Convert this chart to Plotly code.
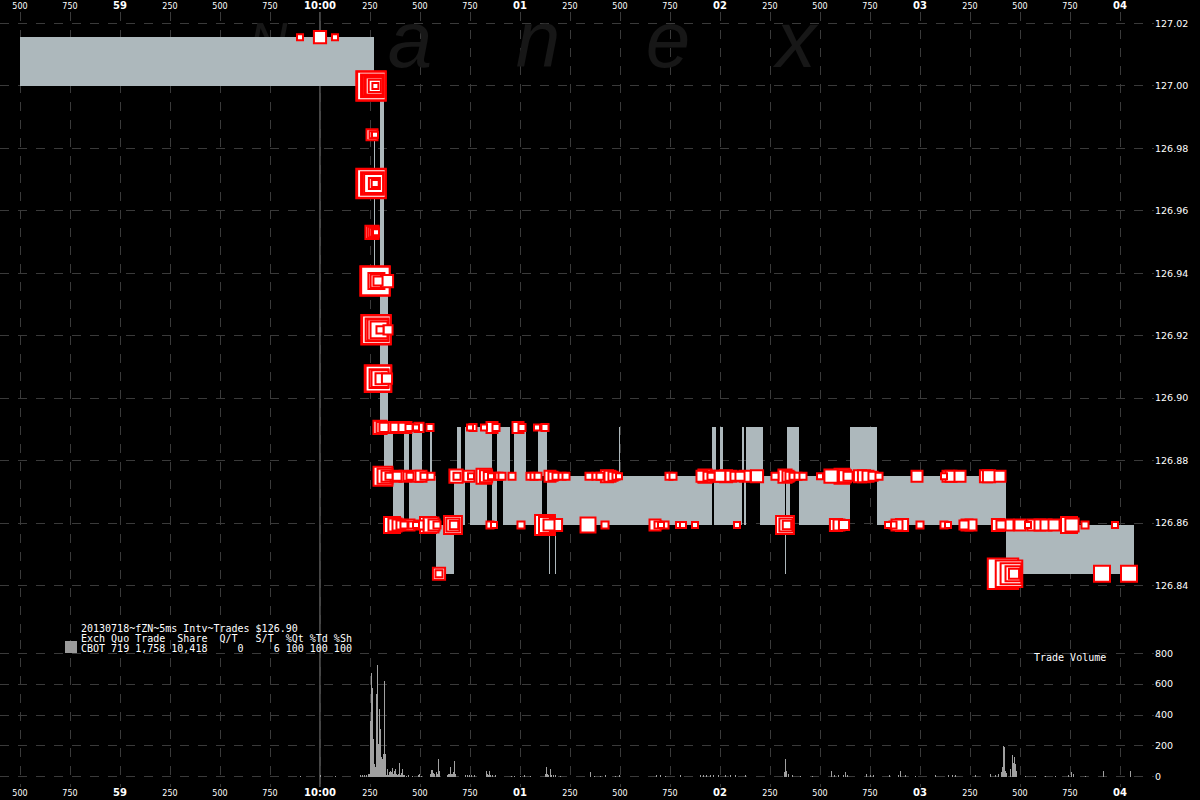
import plotly.graph_objects as go

# ---------------- data ----------------
# price levels (ZN trades in 1/64 ticks)
PRICES = [127.015625, 127.0, 126.984375, 126.96875, 126.953125, 126.9375,
          126.921875, 126.90625, 126.890625, 126.875, 126.859375, 126.84375]

# trades per price level: time (ms after 10:00:00.000) and shares
T0 = [-100, 0, 75]
S0 = [1, 12, 1]
T1 = [255, 257, 262, 265, 268, 271, 274, 277]
S1 = [108, 100, 59, 48, 38, 29, 12, 1]
T2 = [260, 265, 275]
S2 = [9, 2, 1]
T3 = [255, 257, 262, 265, 268, 272, 276]
S3 = [108, 100, 59, 48, 38, 9, 2]
T4 = [260, 265, 270, 275, 280]
S4 = [15, 9, 5, 2, 1]
T5 = [275, 277, 282, 286, 290, 335]
S5 = [108, 100, 25, 15, 5, 12]
T6 = [280, 282, 285, 290, 295, 300, 340]
S6 = [108, 100, 59, 48, 29, 2, 5]
T7 = [290, 292, 295, 300, 305, 335]
S7 = [85, 78, 38, 29, 9, 7]
T8 = [300, 310, 320, 345, 360, 375, 400, 415, 430, 445, 480, 495, 550, 750, 765,
      820, 860, 880, 990, 1010, 1085, 1125]
S8 = [15, 9, 5, 9, 9, 5, 9, 5, 9, 2, 1, 5, 2, 1, 2, 1, 9, 2, 9, 2, 1, 2]
T9 = [315, 325, 335, 345, 380, 385, 425, 440, 450, 485, 505, 520, 555, 680, 685,
      745, 755, 820, 830, 840, 855, 880, 895, 910, 960, 1050, 1070, 1090, 1150,
      1165, 1180, 1210, 1230, 1345, 1380, 1400, 1435, 1450, 1465, 1480, 1495,
      1745, 1765, 1910, 1925, 1940, 1955, 1980, 2000, 2030, 2055, 2075, 2100,
      2125, 2185, 2275, 2325, 2340, 2350, 2365, 2390, 2415, 2500, 2555, 2610,
      2625, 2640, 2700, 2720, 2740, 2765, 2795, 2985, 3120, 3140, 3155, 3200,
      3330, 3345, 3400]
S9 = [38, 21, 9, 2, 9, 5, 9, 5, 2, 9, 9, 2, 2, 15, 2,
      9, 1, 21, 12, 4, 1, 2, 2, 2, 2, 2, 2, 2, 9,
      5, 2, 2, 2, 2, 2, 2, 12, 9, 5, 2, 1,
      2, 2, 9, 15, 5, 2, 9, 9, 12, 9, 5, 5,
      9, 12, 2, 15, 9, 5, 2, 2, 2, 1, 15, 21,
      12, 5, 12, 12, 9, 5, 2, 9, 1, 9, 9, 9,
      12, 12, 9]
T10 = [360, 375, 390, 405, 420, 445, 460, 480, 495, 540, 555, 570, 585, 665, 665,
       670, 850, 870, 1005, 1125, 1135, 1145, 1180, 1340, 1425, 1675, 1690, 1705,
       1725, 1795, 1815, 1875, 2085, 2325, 2330, 2335, 2580, 2595, 2620, 2840,
       2865, 2885, 2910, 3000, 3120, 3140, 3220, 3235, 3255, 3390, 3405, 3440,
       3500, 3540, 3565, 3600, 3630, 3670, 3745, 3760, 3825, 3975]
S10 = [25, 15, 9, 5, 2, 9, 2, 1, 5, 25, 21, 9, 2, 33, 15,
       4, 2, 1, 2, 43, 25, 9, 12, 21, 2, 9, 2, 1,
       2, 1, 1, 1, 1, 33, 15, 4, 12, 9, 7, 1,
       2, 9, 12, 2, 2, 1, 5, 9, 9, 12, 5, 9,
       9, 1, 9, 9, 9, 9, 25, 15, 2, 1]
T11 = [595, 595, 3415, 3445, 3455, 3465, 3470, 3910, 4045]
S11 = [12, 2, 116, 85, 48, 21, 7, 25, 25]

TRADE_TIMES = [T0, T1, T2, T3, T4, T5, T6, T7, T8, T9, T10, T11]
TRADE_SHARES = [S0, S1, S2, S3, S4, S5, S6, S7, S8, S9, S10, S11]

# bid / ask quote intervals (ms after 10:00:00.000)
Q_START = [-1500, 270, 300, 320, 340, 365, 420, 445, 460, 510, 550, 560, 580, 670,
           685, 705, 725, 750, 835, 860, 885, 915, 950, 970, 1030, 1090, 1110,
           1135, 1145, 1150, 1175, 1180, 1495, 1500, 1960, 1970, 1980, 2000, 2015,
           2110, 2120, 2130, 2200, 2215, 2325, 2330, 2335, 2350, 2395, 2650, 2785,
           3430]
Q_END = [270, 275, 320, 340, 365, 420, 445, 460, 510, 550, 560, 580, 670, 685,
         705, 725, 750, 835, 860, 885, 915, 950, 970, 1030, 1090, 1110, 1135,
         1145, 1150, 1175, 1180, 1495, 1500, 1960, 1970, 1980, 2000, 2015, 2110,
         2120, 2130, 2200, 2215, 2325, 2330, 2335, 2350, 2395, 2650, 2785, 3430,
         4070]
Q_BID = [127.0, 126.9375, 126.890625, 126.875, 126.875, 126.859375, 126.875,
         126.859375, 126.859375, 126.859375, 126.859375, 126.859375, 126.84375,
         126.859375, 126.859375, 126.859375, 126.875, 126.859375, 126.875,
         126.859375, 126.875, 126.859375, 126.859375, 126.859375, 126.859375,
         126.859375, 126.875, 126.859375, 126.84375, 126.859375, 126.84375,
         126.859375, 126.859375, 126.859375, 126.875, 126.859375, 126.859375,
         126.859375, 126.859375, 126.875, 126.859375, 126.875, 126.859375,
         126.859375, 126.84375, 126.859375, 126.859375, 126.875, 126.859375,
         126.875, 126.859375, 126.84375]
Q_ASK = [127.015625, 126.984375, 127.0, 126.9375, 126.890625, 126.875, 126.890625,
         126.875, 126.890625, 126.875, 126.890625, 126.875, 126.859375, 126.875,
         126.890625, 126.875, 126.890625, 126.890625, 126.890625, 126.875,
         126.890625, 126.890625, 126.875, 126.890625, 126.875, 126.890625,
         126.890625, 126.875, 126.875, 126.875, 126.875, 126.875, 126.890625,
         126.875, 126.890625, 126.890625, 126.875, 126.890625, 126.875,
         126.890625, 126.875, 126.890625, 126.890625, 126.875, 126.859375,
         126.875, 126.890625, 126.890625, 126.875, 126.890625, 126.875,
         126.859375]

# trade volume per 5 ms interval
VOL_MS = [-100, 0, 75, 200, 210, 220, 230, 240, 245, 250, 255, 260, 265, 270, 275,
          280, 285, 290, 295, 300, 305, 310, 315, 320, 325, 330, 335, 340, 345,
          350, 355, 360, 365, 370, 375, 380, 385, 390, 395, 400, 405, 410, 415,
          420, 430, 440, 460, 490, 495, 505, 550, 555, 560, 565, 570, 580, 585,
          590, 595, 635, 640, 645, 650, 655, 660, 665, 670, 675, 725, 735, 745,
          755, 770, 830, 835, 840, 845, 850, 860, 875, 955, 970, 1000, 1020, 1050,
          1125, 1130, 1135, 1140, 1150, 1155, 1165, 1175, 1200, 1350, 1370, 1400,
          1425, 1475, 1495, 1680, 1700, 1725, 1800, 1900, 1915, 1930, 1950, 1965,
          1990, 2025, 2050, 2075, 2125, 2320, 2325, 2330, 2340, 2360, 2400, 2460,
          2555, 2570, 2590, 2615, 2625, 2635, 2730, 2750, 2765, 2845, 2890, 2900,
          2925, 2975, 3075, 3140, 3160, 3175, 3275, 3350, 3375, 3390, 3405, 3410,
          3415, 3420, 3425, 3430, 3450, 3460, 3465, 3470, 3475, 3480, 3525, 3575,
          3625, 3675, 3740, 3755, 3765, 3825, 3915, 4050]
VOL_SHARES = [3, 5, 3, 10, 8, 12, 6, 15, 20, 360, 673, 576, 243, 82, 60,
              533, 722, 210, 436, 307, 125, 114, 146, 623, 146, 10, 50, 8, 28,
              34, 32, 56, 15, 39, 50, 20, 12, 20, 88, 10, 25, 50, 12,
              5, 4, 6, 3, 8, 17, 4, 20, 43, 45, 25, 15, 30, 20,
              114, 35, 12, 15, 20, 64, 20, 18, 30, 103, 15, 5, 8, 12,
              5, 6, 35, 15, 10, 40, 12, 8, 5, 3, 4, 3, 5, 3,
              20, 60, 15, 10, 50, 10, 8, 6, 3, 28, 4, 3,
              5, 4, 5, 8, 5, 4, 10, 6, 12, 8, 10, 6,
              8, 5, 7, 6, 5, 30, 116, 40, 20, 6, 4, 3,
              35, 10, 12, 10, 30, 8, 15, 12, 10, 10, 8, 40,
              6, 4, 5, 6, 10, 5, 5, 15, 8, 20, 30, 60,
              200, 190, 40, 25, 50, 140, 90, 130, 80, 40, 4, 4,
              3, 4, 10, 28, 15, 3, 37, 37]

# axis ticks
TICK_MS = [-1500, -1250, -1000, -750, -500, -250, 0, 250, 500, 750, 1000, 1250,
           1500, 1750, 2000, 2250, 2500, 2750, 3000, 3250, 3500, 3750, 4000]
TICK_TEXT = ["500", "750", "59", "250", "500", "750", "10:00", "250", "500", "750",
             "01", "250", "500", "750", "02", "250", "500", "750", "03", "250",
             "500", "750", "04"]
SECOND_LABELS = ["59", "10:00", "01", "02", "03", "04"]

WATERMARK = ["N", "a", "n", "e", "x"]
WATERMARK_MS = [-260, 450, 1090, 1740, 2380]
WATERMARK_PRICE = 127.0125

INFO_LINES = ["20130718~fZN~5ms Intv~Trades $126.90",
              "Exch Quo Trade  Share  Q/T   S/T  %Qt %Td %Sh",
              "CBOT 719 1,758 10,418     0     6 100 100 100"]

# ---------------- style / layout ----------------
W, H = 1200, 800
ML, MR, MT, MB = 0, 46, 12, 13
PW, PH = W - ML - MR, H - MT - MB
SPLIT_PX = 640                      # boundary price / volume panel (page px)
split = (H - MB - SPLIT_PX) / PH
X_RANGE = [-1600, 4170]
Y_RANGE = [126.82254, 127.02368]
V_RANGE = [-66.8, 886.2]

GRID = "#3a3a3a"
SPREAD = "#adb8bc"
RED = "#ff0000"
VOLC = "#a0a0a0"


def px_x(p):
    return (p - ML) / PW


def px_y(p):
    return (H - MB - p) / PH


def size_of(shares):
    return 3.5 + 2.5 * shares ** 0.5


ticktext = [("<b><span style='font-size:10px'>%s</span></b>" % t) if t in SECOND_LABELS
            else t for t in TICK_TEXT]

fig = go.Figure()

# watermark (base subplot, beneath the data)
fig.add_trace(go.Scatter(
    x=WATERMARK_MS, y=[WATERMARK_PRICE] * len(WATERMARK), mode="text", text=WATERMARK,
    textfont=dict(family="Liberation Sans", size=[54, 80, 80, 80, 80],
                  color="#171717", style="italic"),
    textposition="middle center", hoverinfo="skip", xaxis="x", yaxis="y",
    cliponaxis=False))

# bid/ask spread
fig.add_trace(go.Bar(
    x=[(a + b) / 2 for a, b in zip(Q_START, Q_END)],
    width=[b - a for a, b in zip(Q_START, Q_END)],
    base=Q_BID, y=[a - b for a, b in zip(Q_ASK, Q_BID)],
    marker=dict(color=SPREAD, line=dict(width=0)),
    xaxis="x3", yaxis="y3", hoverinfo="skip"))

# trades
rows = []
for price, ts, ss in zip(PRICES, TRADE_TIMES, TRADE_SHARES):
    for t, s in zip(ts, ss):
        rows.append((t, price, s))
rows.sort(key=lambda r: (-r[2], r[0]))
fig.add_trace(go.Scatter(
    x=[r[0] for r in rows], y=[r[1] for r in rows], mode="markers",
    marker=dict(symbol="square", size=[size_of(r[2]) for r in rows], color="white",
                opacity=1, line=dict(color=RED, width=2)),
    xaxis="x3", yaxis="y3", cliponaxis=False, hoverinfo="skip"))

# volume
fig.add_trace(go.Bar(
    x=[t + 2.5 for t in VOL_MS], y=VOL_SHARES, width=5,
    marker=dict(color=VOLC, line=dict(width=0)),
    xaxis="x2", yaxis="y2", hoverinfo="skip"))

axfont = dict(family="DejaVu Sans", size=8, color="white")
xcommon = dict(range=X_RANGE, tickmode="array", tickvals=TICK_MS, ticktext=ticktext,
               showgrid=True, gridcolor=GRID, griddash="dash", gridwidth=1,
               zeroline=False, showline=False, ticks="", tickfont=axfont,
               fixedrange=True)
ycommon = dict(side="right", showgrid=True, gridcolor=GRID, griddash="dash",
               gridwidth=1, zeroline=False, showline=False, ticks="",
               tickfont=dict(family="DejaVu Sans", size=9.5, color="white"),
               fixedrange=True)

fig.update_layout(
    width=W, height=H, margin=dict(l=ML, r=MR, t=MT, b=MB, pad=0),
    paper_bgcolor="black", plot_bgcolor="black", showlegend=False,
    barmode="overlay", bargap=0,
    xaxis=dict(xcommon, domain=[0, 1], anchor="y", side="top"),
    xaxis2=dict(xcommon, domain=[0, 1], anchor="y2", side="bottom"),
    xaxis3=dict(range=X_RANGE, overlaying="x", visible=False, fixedrange=True),
    yaxis=dict(ycommon, domain=[split, 1], range=Y_RANGE, tickmode="linear",
               tick0=126.84, dtick=0.02, tickformat=".2f", anchor="x"),
    yaxis2=dict(ycommon, domain=[0, split], range=V_RANGE, tickmode="linear",
                tick0=0, dtick=200, anchor="x2"),
    yaxis3=dict(range=Y_RANGE, overlaying="y", visible=False, fixedrange=True),
)

# 10:00:00 marker line
fig.add_shape(type="line", xref="x", yref="paper", x0=TICK_MS[6], x1=TICK_MS[6],
              y0=0, y1=1, line=dict(color="#8c8c8c", width=1), layer="below")

# info block
mono = dict(family="DejaVu Sans Mono", size=10, color="white")
for i, (line, py) in enumerate(zip(INFO_LINES, [628, 638, 648])):
    fig.add_annotation(xref="paper", yref="paper", x=px_x(79), y=px_y(py),
                       text=line.replace(" ", "\u00a0"), showarrow=False,
                       xanchor="left", yanchor="middle", font=mono)
fig.add_shape(type="rect", xref="paper", yref="paper", x0=px_x(65), x1=px_x(77),
              y0=px_y(653), y1=px_y(641), fillcolor="#9a9a9a", line=dict(width=0))
fig.add_annotation(xref="paper", yref="paper", x=px_x(1032), y=px_y(657),
                   text="Trade\u00a0Volume", showarrow=False, xanchor="left",
                   yanchor="middle", font=mono)

fig.write_html("out.html",
               config={"displayModeBar": False},
               post_script="document.body.style.margin='0';"
                           "document.body.style.overflow='hidden';"
                           "document.body.style.background='black';")
